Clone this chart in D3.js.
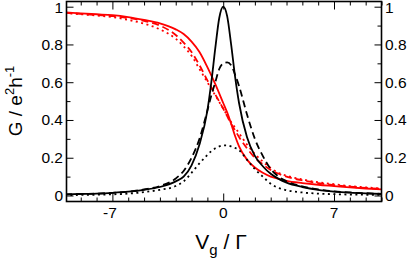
<!DOCTYPE html>
<html>
<head>
<meta charset="utf-8">
<script src="https://cdn.jsdelivr.net/npm/d3@7"></script>
<style>
  body { margin: 0; background: #fff; }
  svg { display: block; }
  text { font-family: "Liberation Sans", Arial, sans-serif; fill: #000; }
</style>
</head>
<body>
<div class="canvas"></div>
<script>
// values (gate voltage in units of Gamma)
const vgBlack = [-10, -9, -8, -7, -6, -5, -4, -3, -2.5, -2, -1.5, -1, -0.75, -0.5, -0.25, 0, 0.25, 0.5, 0.75, 1, 1.5, 2, 2.5, 3, 3.5, 4, 5, 6, 7, 8, 9, 10];
const blackSolid = [0.006, 0.008, 0.010, 0.014, 0.020, 0.030, 0.045, 0.075, 0.10, 0.16, 0.27, 0.45, 0.60, 0.78, 0.94, 1.0, 0.95, 0.80, 0.63, 0.49, 0.31, 0.21, 0.155, 0.115, 0.088, 0.068, 0.045, 0.030, 0.021, 0.015, 0.011, 0.008];
const blackDashed = [0.006, 0.008, 0.010, 0.014, 0.020, 0.032, 0.050, 0.090, 0.13, 0.20, 0.30, 0.45, 0.53, 0.60, 0.67, 0.70, 0.705, 0.69, 0.64, 0.58, 0.43, 0.30, 0.21, 0.14, 0.10, 0.075, 0.048, 0.032, 0.022, 0.016, 0.012, 0.009];
const blackDotted = [0.002, 0.003, 0.004, 0.006, 0.010, 0.018, 0.030, 0.050, 0.075, 0.12, 0.17, 0.215, 0.235, 0.25, 0.26, 0.265, 0.265, 0.26, 0.252, 0.24, 0.19, 0.14, 0.10, 0.062, 0.040, 0.028, 0.016, 0.010, 0.007, 0.005, 0.004, 0.003];

const vgRed = [-10, -9, -8, -7, -6, -5, -4, -3, -2.5, -2, -1.5, -1, -0.5, 0, 0.25, 0.5, 0.75, 1, 1.5, 2, 2.5, 3, 3.5, 4, 5, 6, 7, 8, 9, 10];
const redSolid = [0.970, 0.965, 0.960, 0.955, 0.945, 0.930, 0.912, 0.880, 0.855, 0.815, 0.76, 0.68, 0.59, 0.49, 0.44, 0.38, 0.315, 0.26, 0.19, 0.148, 0.12, 0.10, 0.088, 0.078, 0.066, 0.057, 0.050, 0.043, 0.037, 0.032];
const redDashed = [0.968, 0.962, 0.956, 0.950, 0.940, 0.925, 0.900, 0.850, 0.81, 0.76, 0.69, 0.61, 0.535, 0.46, 0.42, 0.38, 0.345, 0.31, 0.25, 0.20, 0.165, 0.135, 0.115, 0.100, 0.080, 0.066, 0.055, 0.047, 0.040, 0.035];
const redDotted = [0.967, 0.960, 0.953, 0.945, 0.930, 0.910, 0.880, 0.830, 0.79, 0.74, 0.67, 0.60, 0.53, 0.46, 0.425, 0.39, 0.36, 0.33, 0.27, 0.22, 0.18, 0.145, 0.12, 0.105, 0.085, 0.070, 0.060, 0.050, 0.043, 0.037];

const xMajor = [-7, 0, 7];
const yMajor = [0, 0.2, 0.4, 0.6, 0.8, 1];
const yLabels = ['0', '0.2', '0.4', '0.6', '0.8', '1'];

const series = [
  {x: vgRed, y: redSolid, color: '#ff0000', dash: null},
  {x: vgRed, y: redDashed, color: '#ff0000', dash: '7,4'},
  {x: vgRed, y: redDotted, color: '#ff0000', dash: '2,3.5'},
  {x: vgBlack, y: blackSolid, color: '#000', dash: null},
  {x: vgBlack, y: blackDashed, color: '#000', dash: '7,4'},
  {x: vgBlack, y: blackDotted, color: '#000', dash: '2,3.5'}
];

const width = 411, height = 262;
const box = {left: 66.5, right: 381.5, top: 1.5, bottom: 201.5};

const svg = d3.select('.canvas')
  .append('svg')
  .attr('width', width)
  .attr('height', height);

//scales
const x = d3.scaleLinear().domain([-9.9, 10]).range([box.left, box.right]);
const y = d3.scaleLinear().domain([-0.0318, 1.0275]).range([box.bottom, box.top]);

svg.append('clipPath').attr('id', 'clip')
  .append('rect')
  .attr('x', box.left).attr('y', box.top)
  .attr('width', box.right - box.left).attr('height', box.bottom - box.top);

const line = d3.line().curve(d3.curveMonotoneX);

svg.append('g').attr('clip-path', 'url(#clip)')
  .selectAll('path')
  .data(series)
  .enter()
  .append('path')
  .attr('d', s => line(s.x.map((v, i) => [x(v), y(s.y[i])])))
  .attr('fill', 'none')
  .attr('stroke', s => s.color)
  .attr('stroke-width', 1.8)
  .attr('stroke-dasharray', s => s.dash);

//axes, ticks pointing inwards on all four sides
const xMinor = d3.range(-9, 11, 1).filter(v => !xMajor.includes(v));
const yMinor = d3.range(1, 11, 2).map(v => v / 10);

const addAxis = (axis, pos, ticks, size) => {
  const g = svg.append('g').attr('transform', pos).call(axis.tickSize(size).tickValues(ticks).tickFormat(''));
  g.select('.domain').remove();
  g.selectAll('line').attr('stroke', '#000').attr('stroke-width', 1);
  return g;
};

addAxis(d3.axisTop(x), `translate(0,${box.bottom})`, xMajor, 8);
addAxis(d3.axisTop(x), `translate(0,${box.bottom})`, xMinor, 4);
addAxis(d3.axisBottom(x), `translate(0,${box.top})`, xMajor, 8);
addAxis(d3.axisBottom(x), `translate(0,${box.top})`, xMinor, 4);
addAxis(d3.axisRight(y), `translate(${box.left},0)`, yMajor, 7);
addAxis(d3.axisRight(y), `translate(${box.left},0)`, yMinor, 4);
addAxis(d3.axisLeft(y), `translate(${box.right},0)`, yMajor, 7);
addAxis(d3.axisLeft(y), `translate(${box.right},0)`, yMinor, 4);

svg.append('rect')
  .attr('x', box.left).attr('y', box.top)
  .attr('width', box.right - box.left).attr('height', box.bottom - box.top)
  .attr('fill', 'none')
  .attr('stroke', '#000')
  .attr('stroke-width', 1.6);

// tick labels
svg.append('g').selectAll('text')
  .data(xMajor).enter().append('text')
  .attr('x', d => x(d) - (d < 0 ? 2.5 : 0))
  .attr('y', 217.5)
  .attr('text-anchor', 'middle')
  .attr('font-size', 15.5)
  .text(d => d);

svg.append('g').selectAll('text')
  .data(yMajor).enter().append('text')
  .attr('x', 63)
  .attr('y', d => Math.max(y(d) + 5.5, 13))
  .attr('text-anchor', 'end')
  .attr('font-size', 15.5)
  .text((d, i) => yLabels[i]);

svg.append('g').selectAll('text')
  .data(yMajor).enter().append('text')
  .attr('x', 385)
  .attr('y', d => Math.max(y(d) + 5.5, 13))
  .attr('text-anchor', 'start')
  .attr('font-size', 15.5)
  .text((d, i) => yLabels[i]);

// axis titles
const xt = svg.append('text')
  .attr('x', 221)
  .attr('y', 248.5)
  .attr('text-anchor', 'middle')
  .attr('font-size', 21);
xt.append('tspan').text('V');
xt.append('tspan').attr('font-size', 15).attr('dy', 6).text('g');
xt.append('tspan').attr('dy', -6).text(' / Γ');

const yt = svg.append('text')
  .attr('transform', 'translate(22,101) rotate(-90)')
  .attr('text-anchor', 'middle')
  .attr('font-size', 19);
yt.append('tspan').text('G / e');
yt.append('tspan').attr('font-size', 13).attr('dy', -8).text('2');
yt.append('tspan').attr('dy', 8).text('h');
yt.append('tspan').attr('font-size', 13).attr('dy', -8).text('-1');
</script>
</body>
</html>
